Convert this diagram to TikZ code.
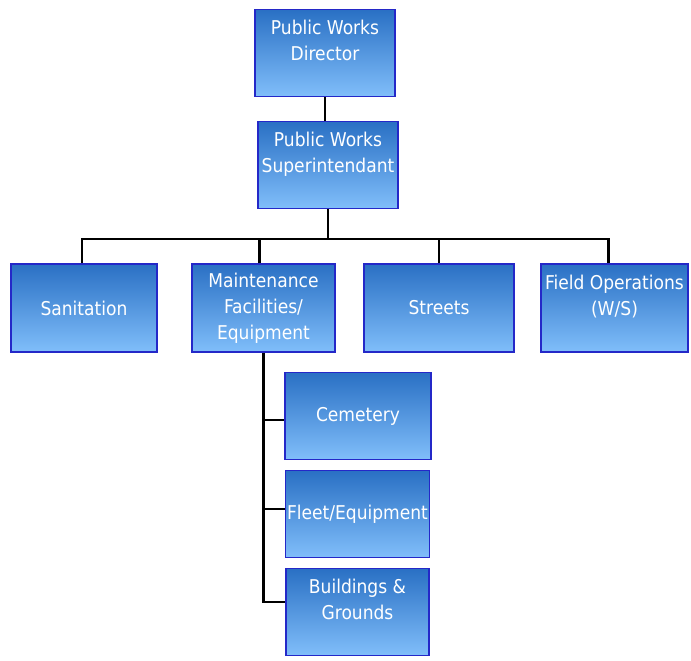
\documentclass[tikz,border=0pt]{standalone}
\usepackage{fontspec}
\setmainfont{DejaVu Sans Condensed}
\usetikzlibrary{positioning}
\definecolor{boxtop}{RGB}{42,112,196}
\definecolor{boxmid}{RGB}{82,150,228}
\definecolor{boxbot}{RGB}{128,190,250}
\definecolor{boxline}{RGB}{36,40,200}
\tikzset{
    unitbox/.style={rectangle, draw=boxline, line width=1.4pt, top color=boxtop, middle color=boxmid, bottom color=boxbot,
        text=white, font=\fontsize{19}{26}\selectfont, align=center, inner sep=0pt,
        minimum width=143pt, minimum height=87pt},
    link/.style={line width=2.2pt, black}
}
\begin{document}
\begin{tikzpicture}[x=1pt, y=-1pt]
    \useasboundingbox (0,0) rectangle (691,661);

    % leitung
    \node[unitbox, minimum width=140pt] (dir) at (325,53) {Public Works\\Director\\\mbox{}};
    \node[unitbox, minimum width=140pt] (sup) at (328,165) {Public Works\\Superintendant\\\mbox{}};

    % abteilungen
    \node[unitbox, minimum width=146pt, minimum height=88pt] (san) at (84,308) {Sanitation};
    \node[unitbox, minimum height=88pt] (mnt) at (263.5,308) {Maintenance\\Facilities/\\Equipment};
    \node[unitbox, minimum width=150pt, minimum height=88pt] (str) at (439,308) {Streets};
    \node[unitbox, minimum width=147pt, minimum height=88pt] (fld) at (614.5,308) {Field Operations\\(W/S)\\\mbox{}};

    % unterbereiche
    \node[unitbox, minimum width=146pt] (cem) at (358,416) {Cemetery};
    \node[unitbox, minimum width=144pt] (flt) at (357.5,514) {Fleet/Equipment};
    \node[unitbox] (bld) at (357.5,612) {Buildings \&\\Grounds\\\mbox{}};

    % verbindungen
    \coordinate (bus) at (0,239);
    \draw[link] (dir.south) -- (dir.south |- sup.north);
    \draw[link] (sup.south) -- (sup.south |- bus);
    \draw[link] ([xshift=-2pt]san.north) -- ([xshift=-2pt]san.north |- bus) -| ([xshift=-6pt]fld.north);
    \draw[link] ([xshift=-4pt]mnt.north) -- ([xshift=-4pt]mnt.north |- bus);
    \draw[link] (str.north) -- (str.north |- bus);
    \draw[link] (mnt.south) |- ([yshift=10pt]bld.west);
    \draw[link] (mnt.south |- cem.west) ++(0,4) -- ([yshift=-4pt]cem.west);
    \draw[link] ([yshift=5pt]flt.west) -- ([yshift=5pt]flt.west -| mnt.south);
\end{tikzpicture}
\end{document}
